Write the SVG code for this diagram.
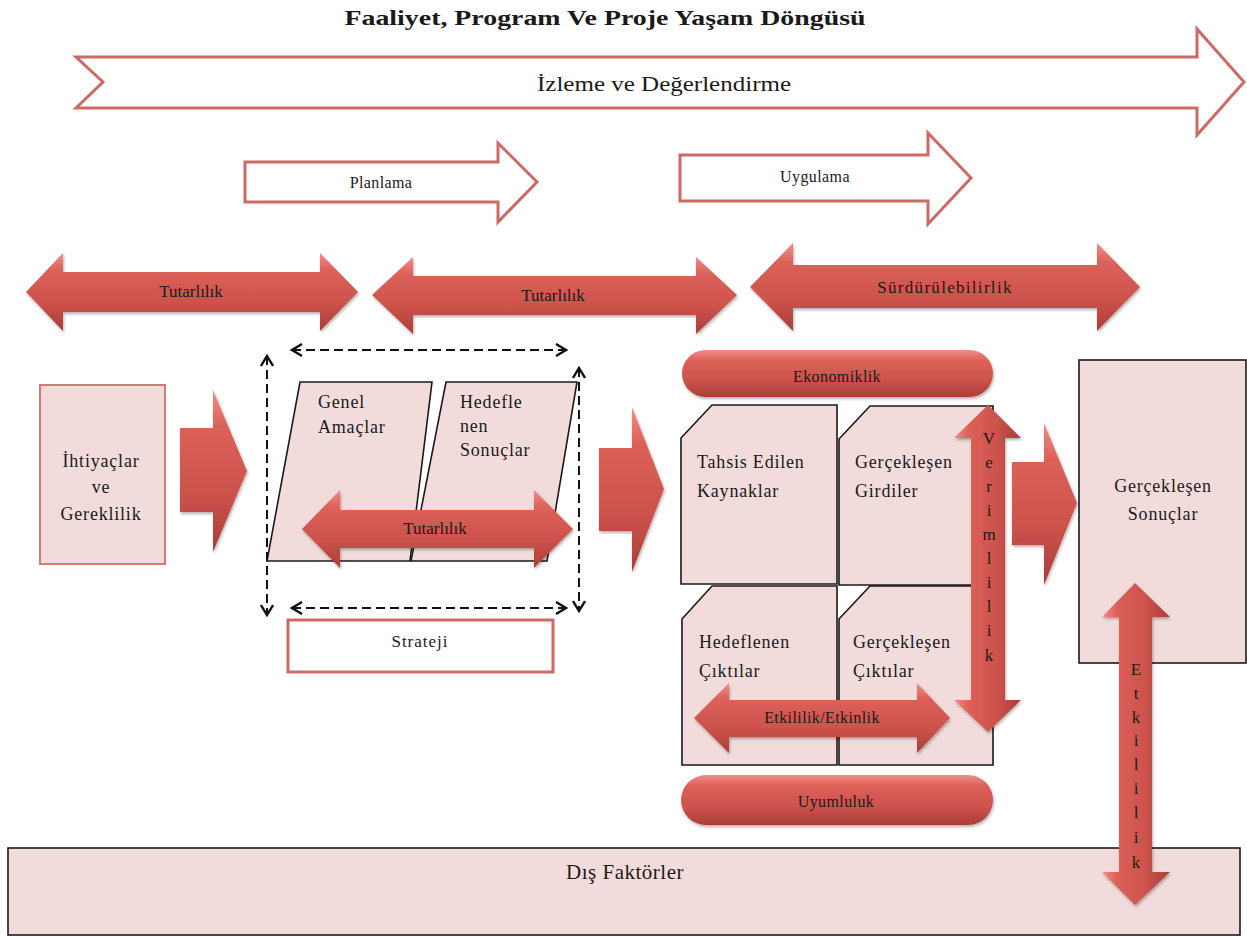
<svg xmlns="http://www.w3.org/2000/svg" width="1247" height="937" viewBox="0 0 1247 937" font-family="'Liberation Serif', 'Times New Roman', serif">
  <defs>
    <style>
      text { font-family: "Liberation Serif", "Times New Roman", serif; fill: #1a1a1a; }
      .title { font-size: 21px; font-weight: bold; }
      .outline { fill: #ffffff; stroke: #cd6a66; stroke-width: 3; stroke-linejoin: miter; }
      .boxred { fill: #f2dcdb; stroke: #d47a76; stroke-width: 2; }
      .boxblk { fill: #f2dcdb; stroke: #1a1a1a; stroke-width: 1.6; }
      .red3dH { fill: url(#gH); filter: url(#shadow); }
      .red3dV { fill: url(#gV); filter: url(#shadow); }
      .lbl { font-size: 17px; text-anchor: middle; }
      .lbl16 { font-size: 16px; text-anchor: middle; letter-spacing: 0.4px; }
      .boxtxt { font-size: 18px; letter-spacing: 0.8px; }
      .dash { fill: none; stroke: #111111; stroke-width: 2; stroke-dasharray: 9 5; }
      .vert { font-size: 17px; text-anchor: middle; }
    </style>
    <linearGradient id="gH" x1="0" y1="0" x2="0" y2="1">
      <stop offset="0" stop-color="#f08e86"/>
      <stop offset="0.22" stop-color="#dc6159"/>
      <stop offset="0.65" stop-color="#cc524b"/>
      <stop offset="1" stop-color="#a93d38"/>
    </linearGradient>
    <linearGradient id="gV" x1="0" y1="0" x2="1" y2="0">
      <stop offset="0" stop-color="#f08e86"/>
      <stop offset="0.22" stop-color="#dc6159"/>
      <stop offset="0.65" stop-color="#cc524b"/>
      <stop offset="1" stop-color="#a93d38"/>
    </linearGradient>
    <filter id="shadow" x="-10%" y="-10%" width="120%" height="130%">
      <feDropShadow dx="1" dy="2" stdDeviation="1.5" flood-color="#000000" flood-opacity="0.3"/>
    </filter>
    <marker id="chev" viewBox="0 0 14 14" refX="12" refY="7" markerWidth="14" markerHeight="14" markerUnits="userSpaceOnUse" orient="auto-start-reverse">
      <path d="M2 1 L12 7 L2 13" fill="none" stroke="#111111" stroke-width="2.4"/>
    </marker>
  </defs>

  <!-- heading -->
  <text class="title" x="605" y="25" text-anchor="middle" textLength="521" lengthAdjust="spacingAndGlyphs">Faaliyet, Program Ve Proje Yaşam Döngüsü</text>

  <!-- phase arrows -->
  <g id="izleme">
    <path class="outline" d="M76 57 L1197 57 L1197 29 L1244 82 L1197 135 L1197 108 L76 108 L103 82 Z"/>
    <text x="664" y="91" font-size="22" text-anchor="middle" textLength="254" lengthAdjust="spacingAndGlyphs">İzleme ve Değerlendirme</text>
  </g>
  <g id="planlama">
    <path class="outline" d="M245 162 L498 162 L498 143 L537 182 L498 222 L498 202 L245 202 Z"/>
    <text class="lbl16" x="381" y="188" font-size="17">Planlama</text>
  </g>
  <g id="uygulama">
    <path class="outline" d="M680 155 L928 155 L928 133 L971 178 L928 224 L928 201 L680 201 Z"/>
    <text class="lbl16" x="815" y="182" font-size="17">Uygulama</text>
  </g>

  <!-- coherence / sustainability bands -->
  <g id="tutarlilik-1">
    <path class="red3dH" d="M26 292 L63 253 L63 272 L320 272 L320 253 L358 292 L320 331 L320 312 L63 312 L63 331 Z"/>
    <text class="lbl" x="191" y="297">Tutarlılık</text>
  </g>
  <g id="tutarlilik-2">
    <path class="red3dH" d="M372 295 L413 257 L413 276 L696 276 L696 257 L737 295 L696 334 L696 315 L413 315 L413 334 Z"/>
    <text class="lbl" x="553" y="301">Tutarlılık</text>
  </g>
  <g id="surdurulebilirlik">
    <path class="red3dH" d="M750 287 L793 243 L793 265 L1097 265 L1097 243 L1140 287 L1097 331 L1097 308 L793 308 L793 331 Z"/>
    <text class="lbl" x="945" y="293" font-size="18" letter-spacing="1.3">Sürdürülebilirlik</text>
  </g>

  <!-- needs -->
  <g id="ihtiyaclar">
    <rect class="boxred" x="40" y="385" width="125" height="179"/>
    <text class="boxtxt" x="101" y="467" text-anchor="middle">İhtiyaçlar</text>
    <text class="boxtxt" x="101" y="493" text-anchor="middle">ve</text>
    <text class="boxtxt" x="101" y="520" text-anchor="middle">Gereklilik</text>
  </g>

  <!-- planning block -->
  <g id="genel-amaclar">
    <path class="boxblk" d="M300 382 L432 382 L410 561 L267 561 Z"/>
    <text class="boxtxt" x="318" y="408" font-size="17">Genel</text>
    <text class="boxtxt" x="318" y="433" font-size="17">Amaçlar</text>
  </g>
  <g id="hedeflenen-sonuclar">
    <path class="boxblk" d="M446 382 L577 382 L547 561 L411 561 Z"/>
    <text class="boxtxt" x="460" y="408" font-size="17">Hedefle</text>
    <text class="boxtxt" x="460" y="432" font-size="17">nen</text>
    <text class="boxtxt" x="460" y="456" font-size="17">Sonuçlar</text>
  </g>
  <g id="tutarlilik-ic">
    <path class="red3dH" d="M302 529 L340 490 L340 510 L534 510 L534 490 L573 529 L534 568 L534 548 L340 548 L340 568 Z"/>
    <text class="lbl" x="435" y="534" font-size="16">Tutarlılık</text>
  </g>
  <g id="strateji">
    <rect x="288" y="620" width="265" height="52" fill="#ffffff" stroke="#cd6a66" stroke-width="3"/>
    <text class="lbl" x="420" y="647" letter-spacing="1">Strateji</text>
  </g>

  <!-- implementation block -->
  <g id="ekonomiklik">
    <rect class="red3dH" x="682" y="350" width="311" height="47" rx="23.5"/>
    <text class="lbl16" x="837" y="382" letter-spacing="0.8">Ekonomiklik</text>
  </g>
  <g id="tahsis-edilen-kaynaklar">
    <path class="boxblk" d="M681 438 L712 405 L837 405 L837 584 L681 584 Z"/>
    <text class="boxtxt" x="697" y="468">Tahsis Edilen</text>
    <text class="boxtxt" x="697" y="497">Kaynaklar</text>
  </g>
  <g id="gerceklesen-girdiler">
    <path class="boxblk" d="M839 439 L870 406 L993 406 L993 585 L839 585 Z"/>
    <text class="boxtxt" x="855" y="468">Gerçekleşen</text>
    <text class="boxtxt" x="855" y="497">Girdiler</text>
  </g>
  <g id="hedeflenen-ciktilar">
    <path class="boxblk" d="M682 619 L712 586 L837 586 L837 765 L682 765 Z"/>
    <text class="boxtxt" x="699" y="648">Hedeflenen</text>
    <text class="boxtxt" x="699" y="677">Çıktılar</text>
  </g>
  <g id="gerceklesen-ciktilar">
    <path class="boxblk" d="M839 619 L870 586 L993 586 L993 765 L839 765 Z"/>
    <text class="boxtxt" x="853" y="648">Gerçekleşen</text>
    <text class="boxtxt" x="853" y="677">Çıktılar</text>
  </g>
  <g id="verimlilik">
    <path class="red3dV" d="M988 405 L1021 438 L1005 438 L1005 700 L1021 700 L988 732 L954 700 L971 700 L971 438 L954 438 Z"/>
    <text class="vert" x="989" y="444">V</text>
    <text class="vert" x="989" y="468">e</text>
    <text class="vert" x="989" y="492">r</text>
    <text class="vert" x="989" y="516">i</text>
    <text class="vert" x="989" y="540">m</text>
    <text class="vert" x="989" y="564">l</text>
    <text class="vert" x="989" y="588">i</text>
    <text class="vert" x="989" y="612">l</text>
    <text class="vert" x="989" y="636">i</text>
    <text class="vert" x="989" y="661">k</text>
  </g>
  <g id="etkililik-etkinlik">
    <path class="red3dH" d="M694 718 L729 683 L729 700 L917 700 L917 683 L950 718 L917 753 L917 737 L729 737 L729 753 Z"/>
    <text class="lbl16" x="822" y="723">Etkililik/Etkinlik</text>
  </g>
  <g id="uyumluluk">
    <rect class="red3dH" x="681" y="775" width="312" height="50" rx="25"/>
    <text class="lbl16" x="836" y="807" letter-spacing="0.8">Uyumluluk</text>
  </g>

  <!-- results and external factors -->
  <g id="gerceklesen-sonuclar">
    <rect class="boxblk" x="1079" y="360" width="167" height="303" stroke="#444444" stroke-width="1.4"/>
    <text class="boxtxt" x="1163" y="492" text-anchor="middle">Gerçekleşen</text>
    <text class="boxtxt" x="1163" y="520" text-anchor="middle">Sonuçlar</text>
  </g>
  <g id="dis-faktorler">
    <rect class="boxblk" x="8" y="848" width="1232" height="87" stroke="#555555" stroke-width="2"/>
    <text x="625" y="879" font-size="21" text-anchor="middle" letter-spacing="0.5">Dış Faktörler</text>
  </g>
  <g id="etkililik">
    <path class="red3dV" d="M1135 583 L1170 617 L1152 617 L1152 872 L1170 872 L1135 905 L1102 872 L1119 872 L1119 617 L1102 617 Z"/>
    <text class="vert" x="1136" y="675">E</text>
    <text class="vert" x="1136" y="699">t</text>
    <text class="vert" x="1136" y="723">k</text>
    <text class="vert" x="1136" y="746">i</text>
    <text class="vert" x="1136" y="770">l</text>
    <text class="vert" x="1136" y="794">i</text>
    <text class="vert" x="1136" y="818">l</text>
    <text class="vert" x="1136" y="843">i</text>
    <text class="vert" x="1136" y="868">k</text>
  </g>

  <!-- flow arrows and dashed relations -->
  <g id="connectors">
    <path class="red3dH" d="M180 428 L213 428 L213 390 L247 471 L213 552 L213 512 L180 512 Z"/>
    <path class="red3dH" d="M599 448 L632 448 L632 407 L664 489 L632 572 L632 531 L599 531 Z"/>
    <path class="red3dH" d="M1012 462 L1044 462 L1044 423 L1077 503 L1044 585 L1044 545 L1012 545 Z"/>
    <line class="dash" x1="292" y1="350" x2="566" y2="350" marker-start="url(#chev)" marker-end="url(#chev)"/>
    <line class="dash" x1="292" y1="608" x2="566" y2="608" marker-start="url(#chev)" marker-end="url(#chev)"/>
    <line class="dash" x1="267" y1="356" x2="267" y2="615" marker-start="url(#chev)" marker-end="url(#chev)"/>
    <line class="dash" x1="579" y1="368" x2="579" y2="611" marker-start="url(#chev)" marker-end="url(#chev)"/>
  </g>
</svg>
